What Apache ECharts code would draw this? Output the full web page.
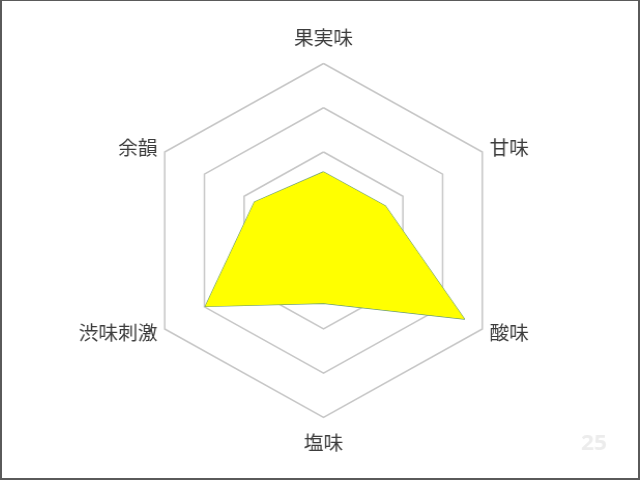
<!DOCTYPE html>
<html>
<head>
<meta charset="utf-8">
<script src="https://cdn.jsdelivr.net/npm/echarts@6/dist/echarts.min.js"></script>
<style>
  html, body { margin: 0; padding: 0; background: #fff; }
  #chart { position: absolute; left: 0; top: 0; width: 640px; height: 480px;
           transform: scaleX(1.036); transform-origin: 323.5px 0; }
  #frame { position: absolute; left: 0; top: 0; width: 640px; height: 480px; box-sizing: border-box;
           border-style: solid; border-color: #5a5a5a; border-width: 1px 2px 2px 2px; pointer-events: none; }
</style>
</head>
<body>
<div id="chart"></div>
<div id="frame"></div>
<script>
// indicators in ECharts' counter-clockwise order, starting at the top
const categories = ['果実味', '余韻', '渋味刺激', '塩味', '酸味', '甘味'];
const values = [1.55, 1.74, 2.98, 1.42, 3.55, 1.56];
const axisMax = 4;
const pageNumber = '25';

const chart = echarts.init(document.getElementById('chart'));
const ringColor = '#c6c6c6';
chart.setOption({
  animation: false,
  title: {
    text: pageNumber,
    left: 567,
    top: 428,
    textStyle: { color: '#ececec', fontSize: 22, fontWeight: 'bold', fontFamily: 'Open Sans' }
  },
  radar: {
    center: [323.5, 240.5],
    radius: 177,
    startAngle: 90,
    shape: 'polygon',
    splitNumber: 4,
    nameGap: 8,
    axisName: {
      color: '#3c3c3c',
      fontSize: 19,
      fontFamily: 'Noto Sans CJK JP',
      padding: [8, 0, 8, 0]
    },
    axisLine: { show: false },
    axisTick: { show: false },
    axisLabel: { show: false },
    splitArea: { show: false },
    splitLine: {
      lineStyle: {
        color: ['transparent', 'transparent', ringColor, ringColor, ringColor],
        width: 1.5
      }
    },
    indicator: categories.map(n => ({ name: n, min: 0, max: axisMax }))
  },
  series: [{
    type: 'radar',
    symbol: 'none',
    lineStyle: { color: '#6a9c78', width: 1.2 },
    areaStyle: { color: '#ffff00', opacity: 1 },
    data: [{ value: values }]
  }]
});
</script>
</body>
</html>
